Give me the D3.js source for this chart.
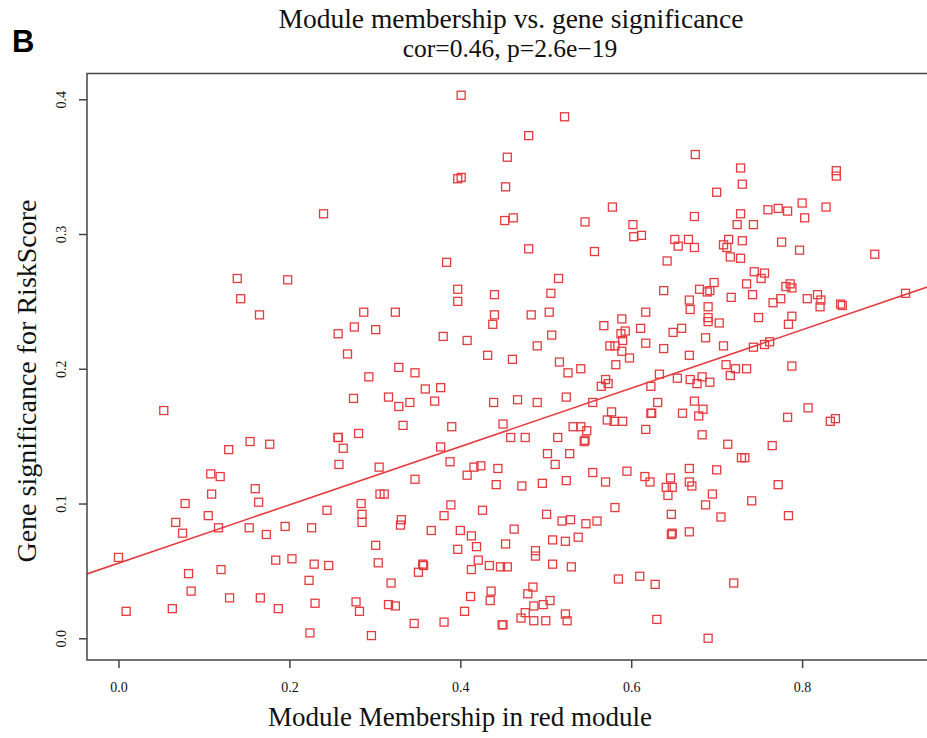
<!DOCTYPE html>
<html lang="en">
<head>
<meta charset="UTF-8">
<title>Module membership vs. gene significance</title>
<script src="https://d3js.org/d3.v7.min.js"></script>
<style>
  body { margin: 0; background: #fff; }
  svg { display: block; }
  .serif { font-family: "Liberation Serif", "Times New Roman", serif; fill: #111; }
</style>
</head>
<body>
<div id="chart"></div>
<script>
// module membership (x) and gene significance (y)
var mm = [0.240,0.401,0.522,0.480,0.455,0.397,0.401,0.453,0.578,0.452,0.462,0.546,0.602,0.603,0.612,0.480,0.557,0.384,
  0.675,0.728,0.840,0.840,0.730,0.700,0.800,0.760,0.772,0.783,0.828,0.674,0.728,0.803,0.724,0.743,0.651,0.667,0.655,0.674,
  0.714,0.730,0.708,0.712,0.776,0.797,0.885,0.642,0.716,0.728,0.744,0.756,0.752,
  0.139,0.198,0.143,0.165,0.287,0.276,0.257,0.268,0.293,0.275,0.053,0.257,0.257,0.281,0.263,0.129,0.154,0.177,0.258,
  0.515,0.397,0.397,0.440,0.506,0.324,0.440,0.483,0.504,0.438,0.301,0.380,0.408,0.507,0.490,0.568,0.589,0.593,0.588,
  0.590,0.575,0.581,0.589,0.598,0.617,0.611,0.617,0.432,0.461,0.516,0.526,0.541,0.582,0.328,0.347,0.359,0.377,0.570,
  0.565,0.573,0.316,0.328,0.341,0.370,0.439,0.467,0.490,0.524,0.555,0.577,0.572,0.580,0.590,0.617,0.333,0.390,0.450,
  0.532,0.541,0.548,0.459,0.476,0.514,0.545,0.546,0.377,0.502,0.528,0.305,0.388,0.511,0.416,0.424,0.444,0.555,0.595,0.616,
  0.638,0.680,0.689,0.692,0.697,0.735,0.781,0.786,0.788,0.668,0.669,0.690,0.717,0.742,0.766,0.775,0.806,0.818,0.822,
  0.821,0.845,0.847,0.921,0.690,0.690,0.703,0.749,0.788,0.784,0.649,0.659,0.638,0.687,0.708,0.743,0.756,0.762,0.668,
  0.711,0.722,0.716,0.735,0.788,0.633,0.654,0.669,0.677,0.683,0.692,0.623,0.631,0.674,0.684,0.623,0.624,0.660,0.679,
  0.783,0.807,0.833,0.839,0.683,0.713,0.765,0.729,0.733,0.668,0.700,
  0.622,0.646,0.641,0.648,0.643,0.668,0.671,0.695,0.687,0.772,0.741,0.647,0.705,0.784,0.647,0.648,0.668,0.628,0.720,
  0.630,0.690,
  0.408,0.347,0.306,0.311,0.442,0.472,0.496,0.524,0.570,0.389,0.381,0.426,0.331,0.330,0.366,0.400,0.413,0.463,0.501,
  0.519,0.529,0.547,0.560,0.581,0.301,0.397,0.419,0.453,0.488,0.488,0.508,0.523,0.538,0.304,0.356,0.357,0.351,0.421,
  0.413,0.434,0.447,0.455,0.508,0.530,0.585,0.610,0.319,0.436,0.435,0.485,0.479,0.412,0.316,0.324,0.405,0.486,0.497,
  0.505,0.476,0.471,0.486,0.500,0.523,0.525,0.346,0.381,0.449,0.450,0.296,
  0.108,0.119,0.109,0.078,0.160,0.164,0.105,0.067,0.075,0.117,0.153,0.173,0.195,0.226,0.244,0.284,0.285,0.285,0.000,
  0.082,0.085,0.120,0.184,0.203,0.229,0.246,0.223,0.130,0.166,0.187,0.230,0.278,0.282,0.009,0.063,0.224];
var gs = [0.315,0.403,0.387,0.373,0.357,0.341,0.342,0.335,0.320,0.310,0.312,0.309,0.307,0.298,0.299,0.289,0.287,0.279,
  0.359,0.349,0.347,0.343,0.337,0.331,0.323,0.318,0.319,0.317,0.320,0.313,0.315,0.312,0.307,0.307,0.296,0.296,0.291,0.290,
  0.296,0.295,0.292,0.290,0.294,0.288,0.285,0.280,0.283,0.282,0.272,0.271,0.267,
  0.267,0.266,0.252,0.240,0.242,0.231,0.226,0.211,0.194,0.178,0.169,0.149,0.149,0.152,0.141,0.140,0.146,0.144,0.129,
  0.267,0.259,0.250,0.255,0.256,0.242,0.240,0.240,0.242,0.233,0.229,0.224,0.221,0.225,0.217,0.232,0.237,0.228,0.226,
  0.221,0.217,0.217,0.213,0.208,0.242,0.230,0.219,0.210,0.207,0.205,0.197,0.200,0.203,0.201,0.197,0.185,0.186,0.192,
  0.187,0.189,0.179,0.172,0.175,0.176,0.175,0.177,0.175,0.179,0.175,0.168,0.162,0.161,0.161,0.155,0.158,0.157,0.159,
  0.157,0.157,0.154,0.149,0.149,0.149,0.146,0.147,0.142,0.137,0.137,0.127,0.131,0.129,0.127,0.128,0.126,0.123,0.124,0.120,
  0.258,0.259,0.257,0.258,0.264,0.263,0.261,0.263,0.260,0.251,0.244,0.246,0.253,0.255,0.249,0.252,0.252,0.255,0.251,
  0.246,0.248,0.247,0.256,0.238,0.235,0.234,0.238,0.239,0.233,0.227,0.230,0.215,0.223,0.217,0.216,0.218,0.220,0.210,
  0.203,0.200,0.195,0.200,0.202,0.196,0.193,0.192,0.189,0.194,0.190,0.187,0.175,0.176,0.170,0.167,0.167,0.167,0.165,
  0.164,0.171,0.161,0.163,0.151,0.144,0.143,0.134,0.134,0.126,0.125,
  0.116,0.119,0.112,0.112,0.106,0.116,0.113,0.107,0.099,0.114,0.102,0.092,0.090,0.091,0.077,0.078,0.079,0.040,0.041,
  0.014,0.000,
  0.121,0.118,0.107,0.107,0.114,0.113,0.115,0.117,0.116,0.099,0.091,0.095,0.088,0.084,0.080,0.080,0.076,0.081,0.092,
  0.087,0.088,0.085,0.087,0.097,0.069,0.066,0.068,0.070,0.065,0.061,0.073,0.072,0.075,0.056,0.055,0.054,0.049,0.058,
  0.051,0.054,0.053,0.053,0.055,0.053,0.044,0.046,0.041,0.035,0.028,0.038,0.033,0.031,0.025,0.024,0.020,0.024,0.025,
  0.028,0.019,0.015,0.013,0.013,0.018,0.013,0.011,0.012,0.010,0.010,0.002,
  0.122,0.120,0.107,0.100,0.111,0.101,0.091,0.086,0.078,0.082,0.082,0.077,0.083,0.082,0.095,0.100,0.092,0.086,0.060,
  0.048,0.035,0.051,0.058,0.059,0.055,0.054,0.043,0.030,0.030,0.022,0.026,0.027,0.020,0.020,0.022,0.004];

var xTicks = [0, 0.2, 0.4, 0.6, 0.8];
var yTicks = [0, 0.1, 0.2, 0.3, 0.4];
// fitted line
var fitIntercept = 0.0557, fitSlope = 0.2165;

var W = 927, H = 738;
var box = {left: 87, right: 937, top: 73.5, bottom: 660};

var svg = d3.select("#chart").append("svg")
  .attr("width", W).attr("height", H);

// R style axis limits: data range padded by 4% each side
function padded(v) {
  var e = d3.extent(v), p = (e[1] - e[0]) * 0.04;
  return [e[0] - p, e[1] + p];
}
var x = d3.scaleLinear().domain(padded(mm)).range([box.left, box.right]);
var y = d3.scaleLinear().domain(padded(gs)).range([box.bottom, box.top]);

var data = mm.map(function(d, i) { return {mm: d, gs: gs[i]}; });

svg.append("defs").append("clipPath").attr("id", "plotclip")
  .append("rect")
  .attr("x", box.left).attr("y", box.top)
  .attr("width", box.right - box.left).attr("height", box.bottom - box.top);

// points
var s = 8;
svg.append("g").selectAll("rect")
  .data(data)
  .enter().append("rect")
    .attr("x", function(d) { return x(d.mm) - s / 2; })
    .attr("y", function(d) { return y(d.gs) - s / 2; })
    .attr("width", s).attr("height", s)
    .style("fill", "none")
    .style("stroke", "#e63a3e")
    .style("stroke-width", 1.3);

// regression line
var xd = x.domain();
svg.append("line")
  .attr("clip-path", "url(#plotclip)")
  .attr("x1", x(xd[0])).attr("y1", y(fitIntercept + fitSlope * xd[0]))
  .attr("x2", x(xd[1])).attr("y2", y(fitIntercept + fitSlope * xd[1]))
  .style("stroke", "#e63a3e")
  .style("stroke-width", 1.6);

// frame
svg.append("rect")
  .attr("x", box.left).attr("y", box.top)
  .attr("width", box.right - box.left).attr("height", box.bottom - box.top)
  .style("fill", "none").style("stroke", "#444").style("stroke-width", 1.5);

// bottom axis
var xAxis = svg.append("g")
  .attr("transform", "translate(0," + box.bottom + ")")
  .call(d3.axisBottom(x).tickValues(xTicks).tickSize(8).tickPadding(14)
    .tickFormat(d3.format(".1f")));
xAxis.select(".domain").remove();
xAxis.selectAll("line").style("stroke", "#444").style("stroke-width", 1.5);
xAxis.selectAll("text").attr("class", "serif").style("font-size", "14px");

// left axis
var yAxis = svg.append("g")
  .attr("transform", "translate(" + box.left + ",0)")
  .call(d3.axisLeft(y).tickValues(yTicks).tickSize(8).tickFormat(d3.format(".1f")));
yAxis.select(".domain").remove();
yAxis.selectAll("line").style("stroke", "#444").style("stroke-width", 1.5);
yAxis.selectAll("text").remove();
yAxis.selectAll(".tick").append("text")
  .attr("class", "serif")
  .attr("transform", "translate(-21,0) rotate(-90)")
  .attr("text-anchor", "middle")
  .style("font-size", "14px")
  .text(function(d) { return d3.format(".1f")(d); });

// titles
svg.append("text").attr("class", "serif")
  .attr("x", 511).attr("y", 28).attr("text-anchor", "middle")
  .style("font-size", "27.5px")
  .text("Module membership vs. gene significance");
svg.append("text").attr("class", "serif")
  .attr("x", 510).attr("y", 57).attr("text-anchor", "middle")
  .style("font-size", "25.5px")
  .text("cor=0.46, p=2.6e\u221219");

svg.append("text").attr("class", "serif")
  .attr("x", 460).attr("y", 726).attr("text-anchor", "middle")
  .style("font-size", "27px")
  .text("Module Membership in red module");

svg.append("text").attr("class", "serif")
  .attr("transform", "translate(36,381) rotate(-90)")
  .attr("text-anchor", "middle")
  .style("font-size", "28px")
  .text("Gene significance for RiskScore");

svg.append("text")
  .attr("x", 12).attr("y", 52)
  .style("font-family", "'Liberation Sans', Arial, sans-serif")
  .style("font-weight", "bold")
  .style("font-size", "31px")
  .style("fill", "#000")
  .text("B");
</script>
</body>
</html>
